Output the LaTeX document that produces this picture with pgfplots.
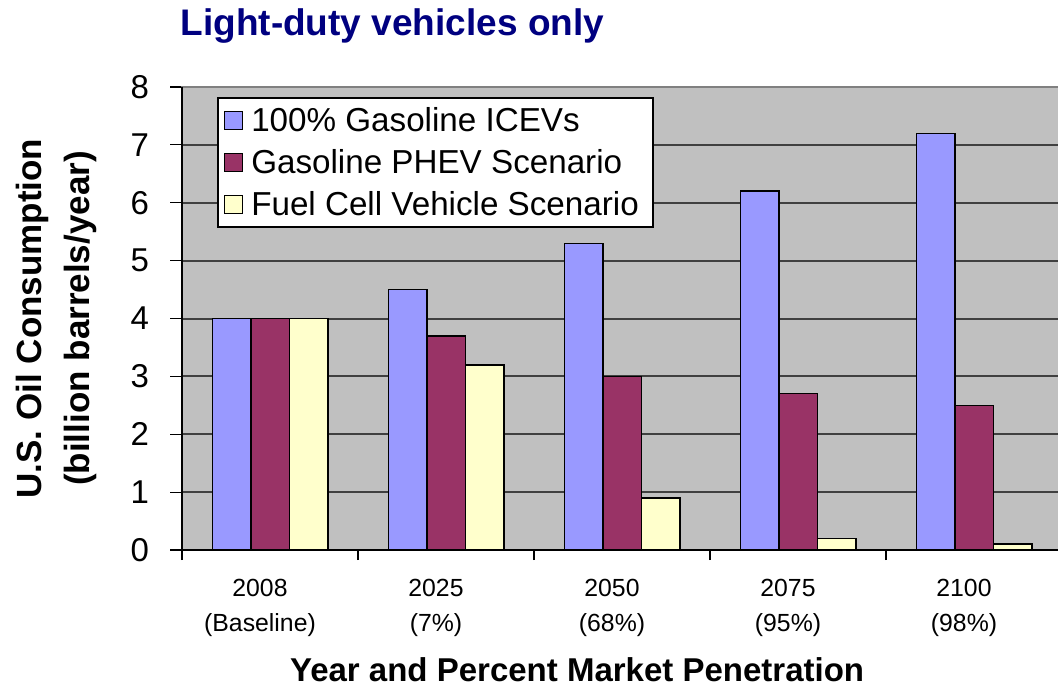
\documentclass[border=0pt]{standalone}
\usepackage{fontspec}
\setmainfont{Liberation Sans}
\usepackage{pgfplots}
\pgfplotsset{compat=1.18}
\definecolor{plotGray}{HTML}{C0C0C0}
\definecolor{iceBlue}{HTML}{9999FF}
\definecolor{phevRed}{HTML}{993366}
\definecolor{fcvYellow}{HTML}{FFFFCC}
\definecolor{titleNavy}{HTML}{000080}

\pgfplotsset{
  legsq/.style={legend image code/.code={%
    \draw[#1,draw=black,line width=0.75pt] (0pt,-4.5pt) rectangle (9pt,4.5pt);}},
}

\begin{document}
\begin{tikzpicture}
\path[use as bounding box, clip] (0,0) rectangle (529pt,345pt);
\begin{axis}[
  at={(91pt,70pt)}, anchor=south west,
  scale only axis, width=440pt, height=231.5pt,
  xmin=-0.5, xmax=4.5, ymin=0, ymax=8,
  ybar=0pt, bar width=19.25pt,
  axis background/.style={fill=plotGray},
  axis line style={draw=black!50, line width=0.75pt},
  tick align=outside, tick pos=left,
  tick style={black, line width=0.6pt},
  major tick length=6pt, minor tick length=5pt,
  xtick={0,1,2,3,4},
  minor xtick={-0.5,0.5,1.5,2.5,3.5,4.5},
  every major x tick/.append style={draw=none},
  xticklabels={{2008\\(Baseline)},{2025\\(7\%)},{2050\\(68\%)},{2075\\(95\%)},{2100\\(98\%)}},
  xticklabel style={align=center, font=\fontsize{12.4}{17.5}\selectfont, xshift=-5pt, yshift=-5pt},
  ytick={0,1,...,8},
  yticklabel style={font=\fontsize{16.5}{20}\selectfont, xshift=-7pt},
  /pgf/number format/assume math mode=true,
  ymajorgrids=true,
  major grid style={draw=black!75, line width=1pt},
  xlabel={Year and Percent Market Penetration},
  xlabel style={at={(rel axis cs:0.449,-0.259)}, anchor=center,
    font=\bfseries\fontsize{16.5}{20}\selectfont},
  ylabel={U.S. Oil Consumption\\(billion barrels/year)},
  ylabel style={at={(rel axis cs:-0.143,0.5)}, anchor=center, align=center,
    font=\bfseries\fontsize{17.5}{24}\selectfont},
  title={Light-duty vehicles only},
  title style={at={(rel axis cs:-0.002,1.085)}, anchor=base west, inner sep=0pt,
    font=\bfseries\fontsize{18.5}{22}\selectfont, text=titleNavy},
  legend style={at={(rel axis cs:0.0398,0.978)}, anchor=north west,
    draw=black, fill=white, line width=0.75pt,
    font=\fontsize{16.6}{19}\selectfont,
    row sep=3.5pt, inner xsep=3pt, inner ysep=2.5pt,
    nodes={inner xsep=4pt},
    cells={anchor=west}},
  legend cell align=left,
  after end axis/.code={
    \draw[black, line width=1pt] (rel axis cs:0,1) -- (rel axis cs:0,0) -- (rel axis cs:1,0);
  },
]
\addplot[fill=iceBlue, draw=black, line width=0.75pt, legsq]
  coordinates {(0,4.0) (1,4.5) (2,5.3) (3,6.2) (4,7.2)};
\addplot[fill=phevRed, draw=black, line width=0.75pt, legsq]
  coordinates {(0,4.0) (1,3.7) (2,3.0) (3,2.7) (4,2.5)};
\addplot[fill=fcvYellow, draw=black, line width=0.75pt, legsq]
  coordinates {(0,4.0) (1,3.2) (2,0.9) (3,0.2) (4,0.1)};
\legend{100\% Gasoline ICEVs, Gasoline PHEV Scenario, Fuel Cell Vehicle Scenario}
\end{axis}
\end{tikzpicture}
\end{document}
